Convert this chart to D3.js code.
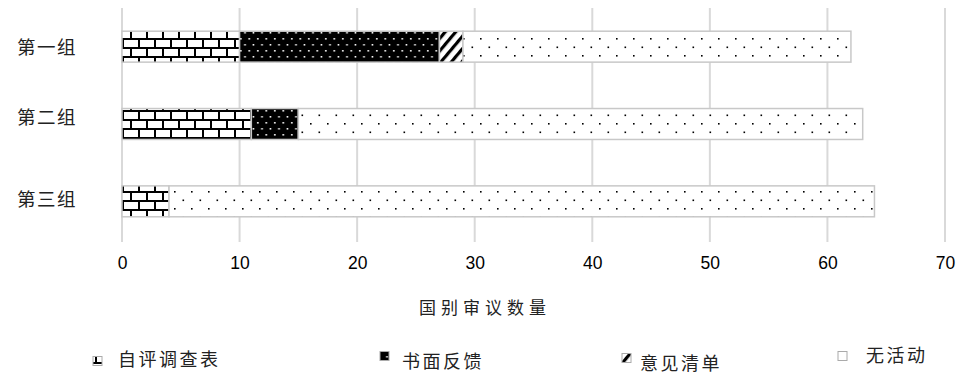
<!DOCTYPE html>
<html><head><meta charset="utf-8">
<script src="https://cdn.jsdelivr.net/npm/d3@7"></script>
<style>
html,body{margin:0;padding:0;background:#fff;}
svg{display:block;}
</style></head>
<body><svg id="chart" width="958" height="378"></svg>
<script>
const categories = ["第一组", "第二组", "第三组"];
const seriesNames = ["自评调查表", "书面反馈", "意见清单", "无活动"];
const selfSurvey = [10, 11, 4];
const writtenFeedback = [17, 4, 0];
const commentList = [2, 0, 0];
const noActivity = [33, 48, 60];
const xTicks = [0, 10, 20, 30, 40, 50, 60, 70];
const xTitle = "国别审议数量";

const seriesValues = [selfSurvey, writtenFeedback, commentList, noActivity];
const rows = categories.map((c, i) => {
  const r = {cat: c};
  seriesNames.forEach((s, j) => r[s] = seriesValues[j][i]);
  return r;
});

const svg = d3.select("#chart");
const m = {left: 122, right: 13, top: 8, bottom: 138};
const W = 958, H = 378;
const x = d3.scaleLinear().domain([0, 70]).range([m.left, W - m.right]);
const y = d3.scaleBand().domain(categories).range([m.top, H - m.bottom]).paddingInner(0.6).paddingOuter(0.3);

const cjk = "'Noto Sans CJK SC', sans-serif";
const latin = "'Liberation Sans', Arial, sans-serif";

// patterns
const defs = svg.append("defs");
// brick
const pb = defs.append("pattern").attr("id", "p0").attr("patternUnits", "userSpaceOnUse")
  .attr("width", 16).attr("height", 18).attr("x", m.left).attr("y", 2);
pb.append("rect").attr("width", 16).attr("height", 18).attr("fill", "#fff");
pb.append("rect").attr("x", 0).attr("y", 0).attr("width", 16).attr("height", 2).attr("fill", "#000");
pb.append("rect").attr("x", 0).attr("y", 9).attr("width", 16).attr("height", 2).attr("fill", "#000");
pb.append("rect").attr("x", 0).attr("y", 0).attr("width", 2).attr("height", 9).attr("fill", "#000");
pb.append("rect").attr("x", 8).attr("y", 9).attr("width", 2).attr("height", 9).attr("fill", "#000");
// black with white dots
const pd = defs.append("pattern").attr("id", "p1").attr("patternUnits", "userSpaceOnUse")
  .attr("width", 8.5).attr("height", 12);
pd.append("rect").attr("width", 8.5).attr("height", 12).attr("fill", "#000");
pd.append("rect").attr("x", 2).attr("y", 2).attr("width", 1.6).attr("height", 1.6).attr("fill", "#fff");
pd.append("rect").attr("x", 6.2).attr("y", 8).attr("width", 1.6).attr("height", 1.6).attr("fill", "#fff");
// diagonal stripes
const ps = defs.append("pattern").attr("id", "p2").attr("patternUnits", "userSpaceOnUse")
  .attr("width", 8).attr("height", 8).attr("patternTransform", "rotate(40)");
ps.append("rect").attr("width", 8).attr("height", 8).attr("fill", "#fff");
ps.append("rect").attr("x", 0).attr("y", 0).attr("width", 3.2).attr("height", 8).attr("fill", "#000");
// sparse dots
const pw = defs.append("pattern").attr("id", "p3").attr("patternUnits", "userSpaceOnUse")
  .attr("width", 17).attr("height", 17);
pw.append("rect").attr("width", 17).attr("height", 17).attr("fill", "#fff");
pw.append("rect").attr("x", 4).attr("y", 4).attr("width", 1.6).attr("height", 1.6).attr("fill", "#000");
pw.append("rect").attr("x", 12.5).attr("y", 12.5).attr("width", 1.6).attr("height", 1.6).attr("fill", "#000");

// gridlines
svg.append("g").selectAll("line").data(xTicks).join("line")
  .attr("x1", d => x(d)).attr("x2", d => x(d))
  .attr("y1", m.top).attr("y2", H - m.bottom + 2)
  .attr("stroke", "#d9d9d9").attr("stroke-width", 2);

// x axis labels
const xAxis = d3.axisBottom(x).tickValues(xTicks).tickSize(0).tickPadding(17).tickFormat(d3.format("d"));
const gx = svg.append("g").attr("transform", `translate(0,${H - m.bottom})`).call(xAxis);
gx.select(".domain").remove();
gx.selectAll("text").attr("font-family", latin).attr("font-size", 17.5).attr("fill", "#000");

// y axis labels
const yLabelDy = [1, -6, -1];
const yAxis = d3.axisLeft(y).tickSize(0).tickPadding(45);
const gy = svg.append("g").attr("transform", `translate(${m.left},0)`).call(yAxis);
gy.select(".domain").remove();
gy.selectAll("text").attr("font-family", cjk).attr("font-size", 18.5).attr("fill", "#222")
  .attr("letter-spacing", "1.5px").attr("y", (d, i) => yLabelDy[i]);

// stacked bars
const stack = d3.stack().keys(seriesNames)(rows);
const g = svg.append("g");
stack.forEach((layer, j) => {
  g.selectAll(null).data(layer.filter(d => d[1] > d[0])).join("rect")
    .attr("x", d => x(d[0])).attr("width", d => x(d[1]) - x(d[0]))
    .attr("y", d => y(d.data.cat)).attr("height", y.bandwidth())
    .attr("fill", `url(#p${j})`)
    .attr("stroke", "#c8c8c8").attr("stroke-width", 1.5);
});

// axis title
svg.append("text").attr("x", 485).attr("y", 314).attr("text-anchor", "middle")
  .attr("font-family", cjk).attr("font-size", 17).attr("letter-spacing", "5px").attr("fill", "#222").text(xTitle);

// legend
const legendX = [93, 380, 622, 838];
const legendMarkY = [361, 356, 358, 356];
const legendTextY = [360, 362, 364, 356];
const legendTextGap = [25, 22, 18, 28];
const lg = svg.append("g");
seriesNames.forEach((s, j) => {
  const it = lg.append("g").attr("transform", `translate(${legendX[j]},0)`);
  it.append("rect").attr("x", 0).attr("y", legendMarkY[j] - 4.5).attr("width", 9).attr("height", 9)
    .attr("fill", `url(#p${j})`).attr("stroke", "#aaa").attr("stroke-width", 1);
  it.append("text").attr("x", legendTextGap[j]).attr("y", legendTextY[j]).attr("dy", "0.35em")
    .attr("font-family", cjk).attr("font-size", 18).attr("letter-spacing", "2.5px").attr("fill", "#222").text(s);
});
</script></body></html>
